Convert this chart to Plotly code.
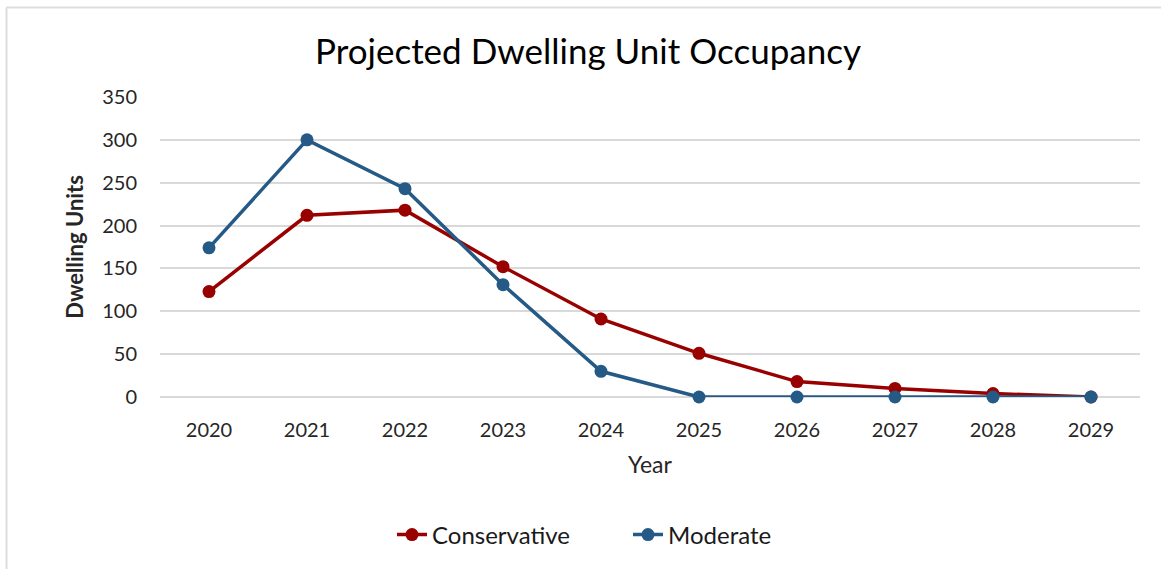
import plotly.graph_objects as go

years = ["2020", "2021", "2022", "2023", "2024", "2025", "2026", "2027", "2028", "2029"]
conservative = [123, 212, 218, 152, 91, 51, 18, 10, 4, 0]
moderate = [174, 300, 243, 131, 30, 0, 0, 0, 0, 0]
y_ticks = [0, 50, 100, 150, 200, 250, 300, 350]

RED = "#990000"
BLUE = "#255A87"
FONT = "Lato"

fig = go.Figure()
fig.add_trace(go.Scatter(x=years, y=conservative, name="Conservative", mode="lines+markers",
                         line=dict(color=RED, width=3.5), marker=dict(size=13, color=RED),
                         cliponaxis=False))
fig.add_trace(go.Scatter(x=years, y=moderate, name="Moderate", mode="lines+markers",
                         line=dict(color=BLUE, width=3.5), marker=dict(size=13, color=BLUE),
                         cliponaxis=False))

L, R, T, B = 160, 21, 97, 172
W, H = 1161, 569
pw, ph = W - L - R, H - T - B

def px_x(p):
    return (p - L) / pw

def px_y(p):
    return (H - B - p) / ph

# outer chart frame (top and left edges visible)
fig.add_shape(type="line", xref="paper", yref="paper", x0=px_x(6.5), x1=px_x(W + 5),
              y0=px_y(7.5), y1=px_y(7.5), line=dict(color="#DDDDDD", width=2), layer="below")
fig.add_shape(type="line", xref="paper", yref="paper", x0=px_x(6.5), x1=px_x(6.5),
              y0=px_y(7.5), y1=px_y(H + 5), line=dict(color="#DDDDDD", width=2), layer="below")

fig.update_layout(
    width=W, height=H,
    margin=dict(l=L, r=R, t=T, b=B),
    paper_bgcolor="white", plot_bgcolor="white",
    font=dict(family=FONT, color="#262626", size=20),
    title=dict(text="Projected Dwelling Unit Occupancy", x=588 / W, xref="container", xanchor="center",
               y=1 - 52 / H, yanchor="middle", font=dict(size=35, color="#000000", family=FONT)),
    showlegend=True,
    legend=dict(orientation="h", x=px_x(392), xanchor="left", y=px_y(535), yanchor="middle",
                font=dict(size=24, color="#1a1a1a"), tracegroupgap=0, entrywidth=191),
    xaxis=dict(type="category", range=[-0.5, 9.5], showgrid=False, showline=False,
               zeroline=False, ticks="", ticklabelstandoff=19,
               tickfont=dict(size=20, color="#262626"),
               title=dict(text="Year", font=dict(size=23, color="#262626"), standoff=16)),
    yaxis=dict(range=[0, 350], tickvals=y_ticks, showgrid=True, gridcolor="#D9D9D9", gridwidth=1.5,
               zeroline=True, zerolinecolor="#D9D9D9", zerolinewidth=1.5, showline=False,
               ticks="", ticklabelstandoff=22, tickfont=dict(size=20, color="#262626"),
               title=dict(text="<b>Dwelling Units</b>", font=dict(size=22, color="#262626"), standoff=12)),
)

fig.write_html("out.html", config={"displayModeBar": False},
               post_script="document.body.style.margin='0';")
